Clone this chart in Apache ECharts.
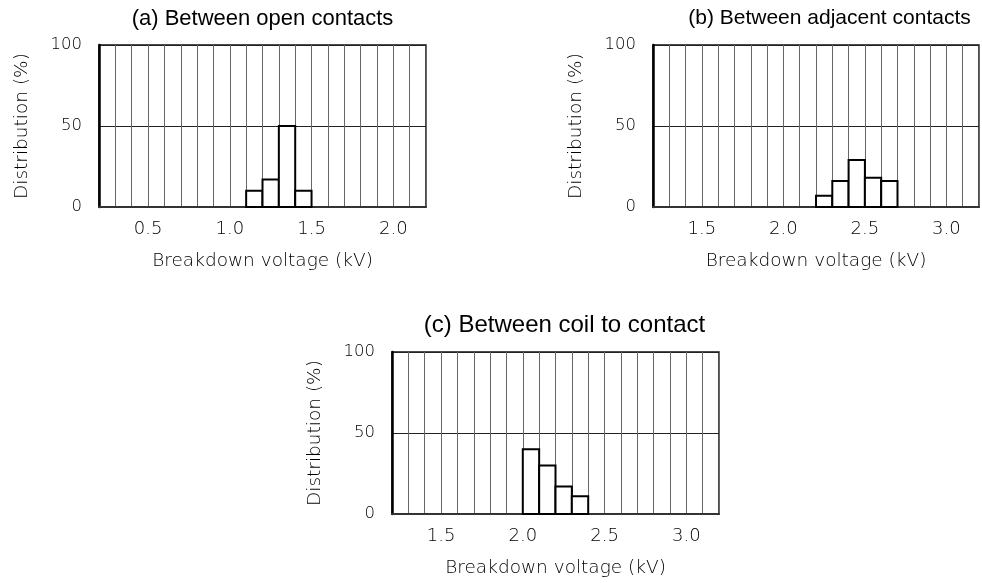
<!DOCTYPE html>
<html>
<head>
<meta charset="utf-8">
<script src="https://cdn.jsdelivr.net/npm/echarts@6/dist/echarts.min.js"></script>
<style>
html,body{margin:0;padding:0;background:#fff;}
#c{width:982px;height:583px;}
</style>
</head>
<body>
<div id="c"></div>
<script>
// ---- data ----
var titles = ['(a) Between open contacts', '(b) Between adjacent contacts', '(c) Between coil to contact'];
var xRanges = [[0.2, 2.2], [1.2, 3.2], [1.2, 3.2]];
var binWidth = 0.1;
var binsA = [1.1, 1.2, 1.3, 1.4];
var valsA = [10, 17, 50, 10];
var binsB = [2.2, 2.3, 2.4, 2.5, 2.6];
var valsB = [7, 16, 29, 18, 16];
var binsC = [2.0, 2.1, 2.2, 2.3];
var valsC = [40, 30, 17, 11];
var yTicks = [0, 50, 100];
var xName = 'Breakdown voltage (kV)';
var yName = 'Distribution (%)';

var bins = [binsA, binsB, binsC];
var vals = [valsA, valsB, valsC];

var grids = [
  {left: 99, top: 45, width: 327, height: 162, tdx: 0, tsize: 22, tdy: -37.5},
  {left: 653, top: 45, width: 327, height: 162, tdx: 13, tsize: 21, tdy: -37},
  {left: 392, top: 352, width: 327, height: 162, tdx: 9, tsize: 24, tdy: -38.5}
];

var font = '"DejaVu Sans", sans-serif';
var chart = echarts.init(document.getElementById('c'));

var option = {
  backgroundColor: '#fff',
  animation: false,
  title: grids.map(function (g, i) {
    return {
      text: titles[i],
      left: g.left + g.width / 2 + g.tdx,
      top: g.top + g.tdy,
      padding: 0,
      textAlign: 'center',
      textStyle: {fontFamily: '"Liberation Sans", Arial, sans-serif', fontSize: g.tsize, fontWeight: 'normal', color: '#000'}
    };
  }),
  grid: grids.map(function (g) {
    return {left: g.left, top: g.top, width: g.width, height: g.height,
      show: true, borderColor: '#111', borderWidth: 1.5, backgroundColor: 'transparent'};
  }),
  xAxis: grids.map(function (g, i) {
    return {
      type: 'value', gridIndex: i, min: xRanges[i][0], max: xRanges[i][1], interval: 0.1,
      name: xName, nameLocation: 'middle', nameGap: 45,
      nameTextStyle: {fontFamily: font, fontWeight: 200, fontSize: 18.5, color: '#000'},
      axisLine: {show: true, lineStyle: {color: '#333', width: 2}},
      axisTick: {show: false},
      splitLine: {show: true, lineStyle: {color: '#666', width: 1}},
      axisLabel: {
        margin: 13, fontFamily: font, fontWeight: 200, fontSize: 18, color: '#000',
        showMinLabel: true, showMaxLabel: true,
        formatter: function (v) {
          var r = Math.round(v * 10) / 10;
          if (Math.abs(r * 2 - Math.round(r * 2)) < 1e-6 && r > xRanges[i][0] + 1e-6 && r < xRanges[i][1] - 1e-6) {
            return r.toFixed(1);
          }
          return '';
        }
      }
    };
  }),
  yAxis: grids.map(function (g, i) {
    return {
      type: 'value', gridIndex: i, min: yTicks[0], max: yTicks[yTicks.length - 1], interval: 50,
      name: yName, nameLocation: 'middle', nameGap: 67, nameRotate: 90,
      nameTextStyle: {fontFamily: font, fontWeight: 200, fontSize: 18.5, color: '#000'},
      axisLine: {show: true, lineStyle: {color: '#000', width: 2.5}},
      axisTick: {show: false},
      splitLine: {show: true, lineStyle: {color: '#222', width: 1}},
      axisLabel: {margin: 17, fontFamily: font, fontWeight: 200, fontSize: 16.5, color: '#000'}
    };
  }),
  series: grids.map(function (g, i) {
    return {
      type: 'custom', xAxisIndex: i, yAxisIndex: i,
      data: bins[i].map(function (b, k) { return [b, vals[i][k]]; }),
      renderItem: function (params, api) {
        var x0 = api.value(0), y = api.value(1);
        var p0 = api.coord([x0, 0]);
        var p1 = api.coord([x0 + binWidth, y]);
        return {
          type: 'rect',
          shape: {x: p0[0], y: p1[1], width: p1[0] - p0[0], height: p0[1] - p1[1]},
          style: {fill: '#fff', stroke: '#000', lineWidth: 2}
        };
      },
      z: 5
    };
  })
};
chart.setOption(option);
</script>
</body>
</html>
